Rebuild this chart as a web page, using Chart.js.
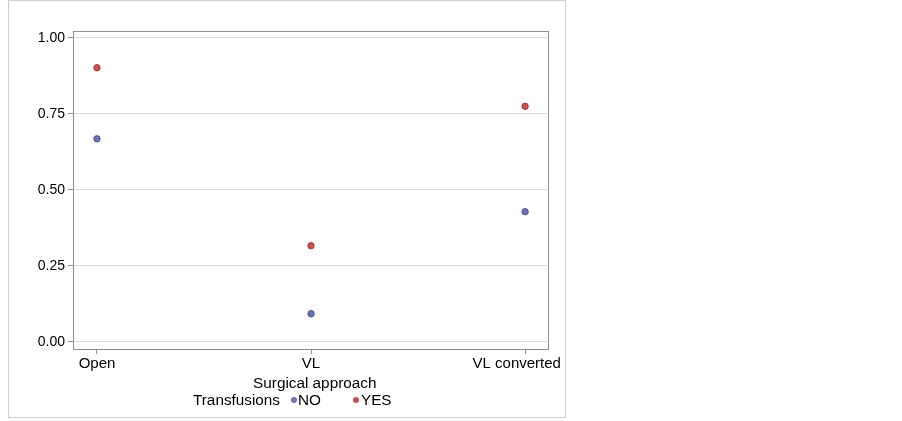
<!DOCTYPE html>
<html>
<head>
<meta charset="utf-8">
<script src="https://cdn.jsdelivr.net/npm/chart.js@4.4.1/dist/chart.umd.min.js"></script>
<style>
  body { margin: 0; background: #fff; font-family: 'Liberation Sans', Arial, sans-serif; }
  #frame {
    position: absolute; left: 8px; top: 0px;
    width: 556px; height: 416px;
    border: 1px solid #cfcfcf;
  }
  #legend {
    position: absolute; left: 193px; top: 391px;
    display: flex; align-items: center;
    font-size: 15.3px; line-height: 18px; color: #000;
    white-space: pre;
  }
  #legend .dot {
    display: inline-block; width: 6px; height: 6px; border-radius: 50%;
  }
</style>
</head>
<body>
<div id="frame"><canvas id="chart" width="556" height="416"></canvas></div>
<div id="legend"></div>
<script>
// ---------------- DATA ----------------
const categories = ["Open", "VL", "VL converted"];
const noValues = [0.668, 0.092, 0.428];
const yesValues = [0.902, 0.316, 0.775];
const yTicks = [0, 0.25, 0.5, 0.75, 1.0];
const legendTitle = "Transfusions";
const seriesNames = ["NO", "YES"];

const FONT = "'Liberation Sans', Arial, sans-serif";
const NO_COLOR = "#6a74b8";
const YES_COLOR = "#d0504c";

function toPoints(values) {
  return values.map((v, i) => ({ x: i, y: v }));
}

// box around the plot area
const boxPlugin = {
  id: "box",
  afterDraw(chart) {
    const a = chart.chartArea;
    const ctx = chart.ctx;
    ctx.save();
    ctx.strokeStyle = "#8c9298";
    ctx.lineWidth = 1;
    ctx.strokeRect(a.left + 0.5, a.top + 0.5, a.right - a.left, a.bottom - a.top);
    ctx.restore();
  },
};

const chart = new Chart(document.getElementById("chart"), {
  type: "scatter",
  data: {
    datasets: [
      {
        label: seriesNames[0],
        data: toPoints(noValues),
        pointStyle: "circle",
        pointRadius: 3.2,
        backgroundColor: NO_COLOR,
        borderColor: "#4a529a",
        borderWidth: 1,
      },
      {
        label: seriesNames[1],
        data: toPoints(yesValues),
        pointStyle: "circle",
        pointRadius: 3.2,
        backgroundColor: YES_COLOR,
        borderColor: "#a83a38",
        borderWidth: 1,
      },
    ],
  },
  options: {
    responsive: false,
    animation: false,
    layout: { padding: { top: 30, right: 17, bottom: 24, left: 0 } },
    plugins: {
      tooltip: { enabled: false },
      legend: { display: false },
    },
    scales: {
      x: {
        type: "linear",
        min: -0.112,
        max: 2.107,
        afterBuildTicks(scale) {
          scale.ticks = categories.map((c, i) => ({ value: i }));
        },
        afterFit(scale) {
          scale.height = 44;
          scale.paddingLeft = 0;
          scale.paddingRight = 0;
        },
        ticks: {
          color: "#000",
          font: { family: FONT, size: 15 },
          padding: 1,
          // last label sits a little left of its tick, as in the original
          callback: (v) => (v === 2 ? categories[v] + "    " : categories[v]),
          maxRotation: 0,
          autoSkip: false,
        },
        grid: { drawOnChartArea: false, drawTicks: true, tickLength: 5, color: "#8c9298" },
        border: { color: "#8c9298" },
        title: {
          display: true,
          text: "  Surgical approach",
          color: "#000",
          font: { family: FONT, size: 15.3 },
          padding: { top: 0, bottom: 0 },
        },
      },
      y: {
        min: -0.024,
        max: 1.023,
        afterBuildTicks(scale) {
          scale.ticks = yTicks.map((v) => ({ value: v }));
        },
        afterFit(scale) { scale.width = 64; },
        ticks: {
          color: "#000",
          font: { family: FONT, size: 14 },
          padding: 3,
          callback: (v) => v.toFixed(2),
        },
        grid: {
          color: "#dcdcdc",
          tickColor: "#8c9298",
          tickLength: 5,
        },
        border: { color: "#8c9298" },
      },
    },
  },
  plugins: [boxPlugin],
});

// ---------------- LEGEND (HTML) ----------------
function buildLegend() {
  const box = document.getElementById("legend");
  const title = document.createElement("span");
  title.textContent = legendTitle;
  title.style.marginRight = "11px";
  box.appendChild(title);

  chart.data.datasets.forEach((ds, i) => {
    const dot = document.createElement("span");
    dot.className = "dot";
    dot.style.background = ds.backgroundColor;
    dot.style.marginRight = i === 0 ? "1px" : "2px";
    box.appendChild(dot);

    const txt = document.createElement("span");
    txt.textContent = ds.label;
    if (i === 0) txt.style.marginRight = "32px";
    box.appendChild(txt);
  });
}

buildLegend();
</script>
</body>
</html>
